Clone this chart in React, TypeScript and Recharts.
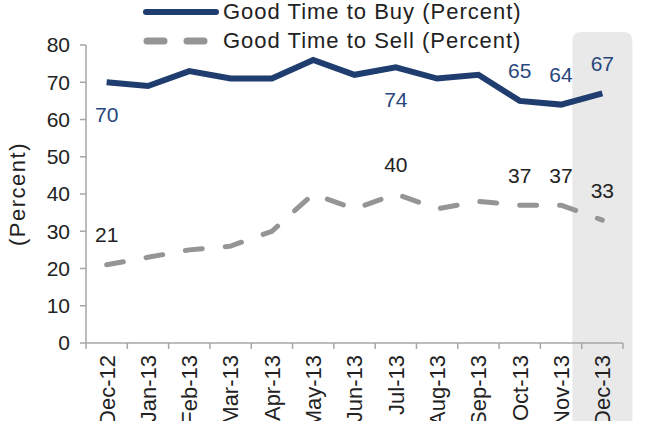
import {
  ComposedChart,
  Line,
  XAxis,
  YAxis,
  Legend,
  LabelList,
  ReferenceArea,
} from "recharts";

const months = [
  "Dec-12",
  "Jan-13",
  "Feb-13",
  "Mar-13",
  "Apr-13",
  "May-13",
  "Jun-13",
  "Jul-13",
  "Aug-13",
  "Sep-13",
  "Oct-13",
  "Nov-13",
  "Dec-13",
];
const goodTimeToBuy = [70, 69, 73, 71, 71, 76, 72, 74, 71, 72, 65, 64, 67];
const goodTimeToSell = [21, 23, 25, 26, 30, 40, 36, 40, 36, 38, 37, 37, 33];
const yTicks = [0, 10, 20, 30, 40, 50, 60, 70, 80];
// which points carry a value label
const labelledPoints = [0, 7, 10, 11, 12];
const buyLabelsBelow = [0, 7];
const highlightMonth = "Dec-13";

const data = months.map((m, i) => ({
  month: m,
  buy: goodTimeToBuy[i],
  sell: goodTimeToSell[i],
}));

const W = 646;
const H = 421;
const margin = { top: 45, right: 23, left: 0, bottom: 0 };
const yAxisWidth = 86;
const bandW = (W - margin.left - margin.right - yAxisWidth) / months.length;

const NAVY = "#1F3D6E";
const LABEL_BLUE = "#28477C";
const GRAY = "#959595";
const AXIS = "#A6A6A6";
const TEXT = "#222";
const FONT = "'Liberation Sans', Arial, sans-serif";

const XTick = (props: any) => {
  const { x, y, payload, index } = props;
  const last = index === months.length - 1;
  return (
    <g>
      <line x1={x - bandW / 2} x2={x - bandW / 2} y1={y - 8} y2={y - 2} stroke={AXIS} strokeWidth={1.5} />
      {last && (
        <line x1={x + bandW / 2} x2={x + bandW / 2} y1={y - 8} y2={y - 2} stroke={AXIS} strokeWidth={1.5} />
      )}
      <g transform={`translate(${x},${y + 4})`}>
        <text
          transform="rotate(-90)"
          textAnchor="end"
          dy="0.36em"
          fontSize={22}
          fill={TEXT}
          fontFamily={FONT}
        >
          {payload.value}
        </text>
      </g>
    </g>
  );
};

const makeLabel = (color: string, below: number[]) => (props: any) => {
  const { x, y, value, index } = props;
  if (!labelledPoints.includes(index)) return null;
  const dy = below.includes(index) ? 32 : -30;
  return (
    <text
      x={x}
      y={y + dy}
      textAnchor="middle"
      dominantBaseline="central"
      fontSize={21}
      fill={color}
      fontFamily={FONT}
    >
      {value}
    </text>
  );
};

const renderLegend = (props: any) => {
  const { payload } = props;
  return (
    <svg width={W} height={55}>
      {payload.map((entry: any, i: number) => {
        const cy = 11 + i * 29;
        const dashed = !!entry.payload?.strokeDasharray;
        return (
          <g key={`leg-${i}`}>
            <line
              x1={dashed ? 147 : 146}
              x2={dashed ? 208 : 216}
              y1={cy + 1}
              y2={cy + 1}
              stroke={entry.color}
              strokeWidth={dashed ? 7 : 6}
              strokeLinecap="round"
              strokeDasharray={dashed ? "17 23" : undefined}
            />
            <text
              x={223}
              y={cy}
              dominantBaseline="central"
              fontSize={22}
              letterSpacing={1}
              fill={TEXT}
              fontFamily={FONT}
            >
              {entry.value}
            </text>
          </g>
        );
      })}
    </svg>
  );
};

const Shade = (props: any) => {
  const { x, width } = props;
  const cx = x + width / 2;
  const w = 60;
  const top = 32;
  const r = 9;
  const l = cx - w / 2;
  const rr = cx + w / 2;
  return (
    <path
      d={`M${l},${H} L${l},${top + r} Q${l},${top} ${l + r},${top} L${rr - r},${top} Q${rr},${top} ${rr},${top + r} L${rr},${H} Z`}
      fill="rgba(200,200,200,0.4)"
    />
  );
};

export default () => {
  return (
    <div style={{ position: "absolute", left: 0, top: 0, width: W, height: H, background: "#fff" }}>
      <ComposedChart width={W} height={H} data={data} margin={margin}>
        <XAxis
          dataKey="month"
          scale="band"
          axisLine={{ stroke: AXIS, strokeWidth: 1.5 }}
          tickLine={false}
          tick={<XTick />}
          interval={0}
          height={78}
        />
        <YAxis
          domain={[0, 80]}
          ticks={yTicks}
          interval={0}
          width={yAxisWidth}
          axisLine={{ stroke: AXIS, strokeWidth: 1.5 }}
          tickLine={{ stroke: AXIS, strokeWidth: 1.5 }}
          tickSize={6}
          tickMargin={10}
          tick={{ fontSize: 21, fill: TEXT, fontFamily: FONT }}
          label={{
            value: "(Percent)",
            angle: -90,
            position: "insideLeft",
            dx: 12,
            dy: 0,
            style: { fontSize: 22, fill: TEXT, fontFamily: FONT, letterSpacing: 1.5, textAnchor: "middle" },
          }}
        />
        <Legend
          content={renderLegend}
          verticalAlign="middle"
          align="center"
          wrapperStyle={{ top: 0, left: 0, width: W, height: 55 }}
        />
        <Line
          type="linear"
          dataKey="buy"
          name="Good Time to Buy (Percent)"
          stroke={NAVY}
          strokeWidth={6}
          dot={false}
          activeDot={false}
          isAnimationActive={false}
        >
          <LabelList dataKey="buy" content={makeLabel(LABEL_BLUE, buyLabelsBelow)} />
        </Line>
        <Line
          type="linear"
          dataKey="sell"
          name="Good Time to Sell (Percent)"
          stroke={GRAY}
          strokeWidth={5}
          strokeDasharray="17 23"
          strokeLinecap="round"
          dot={false}
          activeDot={false}
          isAnimationActive={false}
        >
          <LabelList dataKey="sell" content={makeLabel(TEXT, [])} />
        </Line>
        <ReferenceArea
          x1={highlightMonth}
          x2={highlightMonth}
          ifOverflow="visible"
          shape={<Shade />}
        />
      </ComposedChart>
    </div>
  );
};
